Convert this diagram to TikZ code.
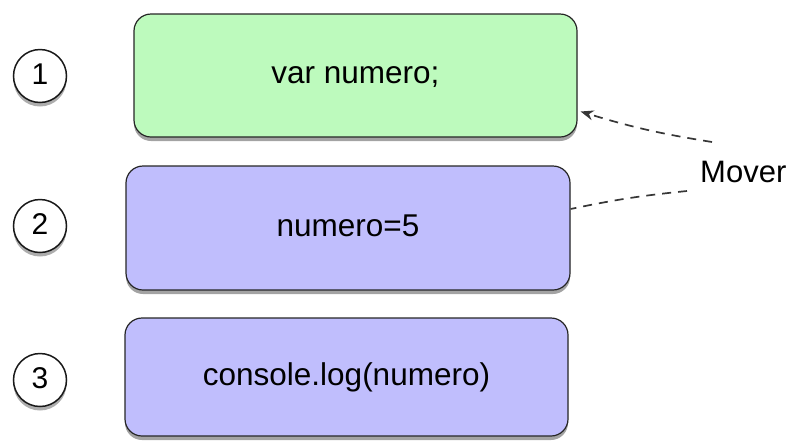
\documentclass[tikz,border=0pt]{standalone}
\usepackage{fontspec}
\setmainfont{Liberation Sans}
\usetikzlibrary{shadows,arrows.meta,calc}
\definecolor{boxgreen}{RGB}{189,250,189}
\definecolor{boxblue}{RGB}{192,190,253}
\definecolor{linegray}{RGB}{55,55,55}
\tikzset{
  stepbox/.style={draw=black!85, line width=1.2pt, rounded corners=17pt,
    font=\fontsize{31.5}{31.5}\selectfont, text height=16pt, text depth=0pt,
    drop shadow={shadow xshift=0pt, shadow yshift=-4pt, opacity=0.45, fill=black!80}},
  numcirc/.style={circle, draw=black!90, line width=1.5pt, fill=white,
    minimum size=53pt, inner sep=0pt,
    font=\fontsize{30}{30}\selectfont, text height=16pt, text depth=0pt,
    drop shadow={shadow xshift=0pt, shadow yshift=-4pt, opacity=0.4, fill=black!80}},
  moverline/.style={draw=linegray, line width=1.7pt, dash pattern=on 9pt off 7pt},
}
\begin{document}
\begin{tikzpicture}[x=1pt,y=-1pt]
\useasboundingbox (0,0) rectangle (793,440);
\node[stepbox, fill=boxgreen, minimum width=443pt, minimum height=123pt] (b1) at (355.5,75.5) {var numero;};
\node[stepbox, fill=boxblue, minimum width=444pt, minimum height=124pt] (b2) at (348,228) {numero=5};
\node[stepbox, fill=boxblue, minimum width=443pt, minimum height=118pt] (b3) at (346.5,377) {console.log(numero)};
\node[numcirc] (c1) at (40,76) {1};
\node[numcirc] (c2) at (40,226) {2};
\node[numcirc] (c3) at (40,380) {3};
\node[anchor=base west, inner sep=0pt, font=\fontsize{31}{31}\selectfont] (mv) at (700,182) {Mover};
\coordinate (m1) at (712,142);
\coordinate (m2) at (687,191);
\coordinate (t1) at ($(b1.east)+(3,36)$);
\coordinate (t2) at ($(b2.east)+(0,-19)$);
\draw[moverline, -{Stealth[length=13pt,width=10pt]}] (m1) to[bend left=4] (t1);
\draw[moverline] (m2) to[bend right=3] (t2);
\end{tikzpicture}
\end{document}
